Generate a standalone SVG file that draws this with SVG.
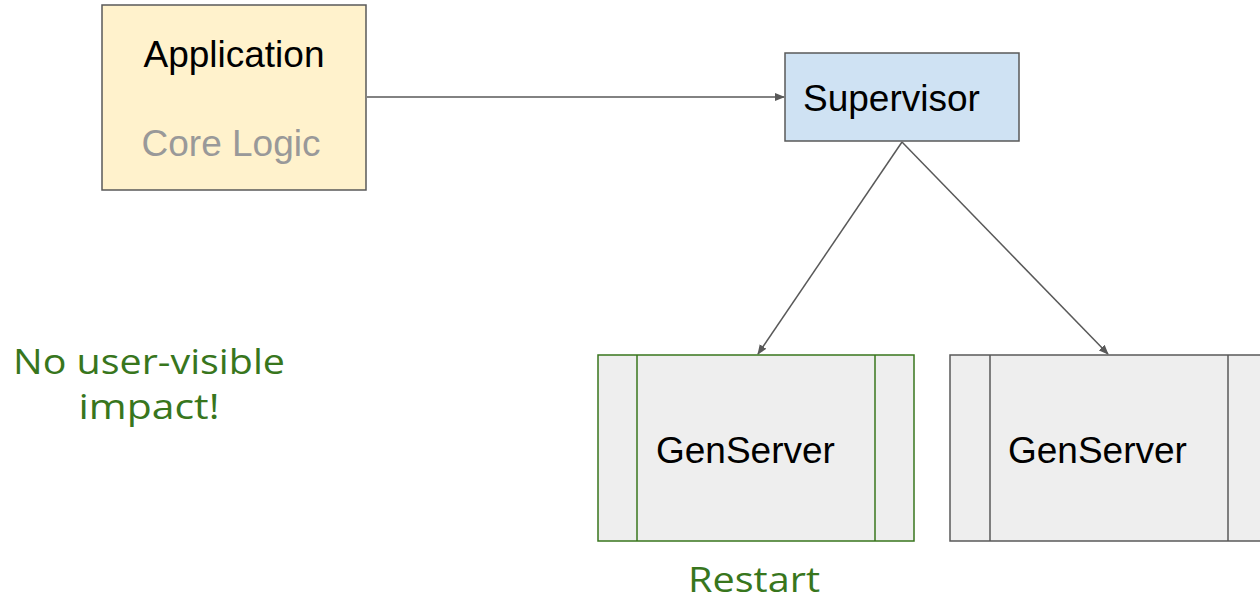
<svg xmlns="http://www.w3.org/2000/svg" width="1260" height="600" viewBox="0 0 1260 600">
  <style>
    .box { stroke: #595959; stroke-width: 1.5; }
    .label { font-family: "Liberation Sans", Arial, sans-serif; font-size: 37px; fill: #000000; }
    .note { font-family: "Open Sans", "Liberation Sans", sans-serif; font-size: 35px; fill: #38761d; }
    .conn { stroke: #595959; stroke-width: 1.5; fill: none; marker-end: url(#arrow); }
  </style>
  <defs>
    <marker id="arrow" viewBox="0 0 10 10" refX="9" refY="5" markerWidth="10" markerHeight="10" markerUnits="userSpaceOnUse" orient="auto">
      <path d="M0,1 L10,5 L0,9 z" fill="#595959"/>
    </marker>
  </defs>
  <rect width="1260" height="600" fill="#ffffff"/>

  <g id="connectors">
    <line class="conn" x1="367" y1="97" x2="784" y2="97"/>
    <line class="conn" x1="902" y1="142" x2="758" y2="354"/>
    <line class="conn" x1="902" y1="142" x2="1108" y2="354"/>
  </g>

  <g id="application">
    <rect class="box" x="102" y="5" width="264" height="185" fill="#fff2cc"/>
    <text class="label" x="234" y="67" text-anchor="middle">Application</text>
    <text class="label" x="231" y="156" text-anchor="middle" style="fill:#999999">Core Logic</text>
  </g>

  <g id="supervisor">
    <rect class="box" x="785" y="53" width="234" height="88" fill="#cfe2f3"/>
    <text class="label" x="803" y="111">Supervisor</text>
  </g>

  <g id="genserver-restarted">
    <rect x="598" y="355" width="316" height="186" fill="#eeeeee" stroke="#38761d" stroke-width="1.5"/>
    <line x1="637" y1="355" x2="637" y2="541" stroke="#38761d" stroke-width="1.5"/>
    <line x1="875" y1="355" x2="875" y2="541" stroke="#38761d" stroke-width="1.5"/>
    <text class="label" x="656" y="463">GenServer</text>
  </g>

  <g id="genserver">
    <rect class="box" x="950" y="355" width="316" height="186" fill="#eeeeee"/>
    <line class="box" x1="990" y1="355" x2="990" y2="541"/>
    <line class="box" x1="1228" y1="355" x2="1228" y2="541"/>
    <text class="label" x="1008" y="463">GenServer</text>
  </g>

  <g id="notes">
    <text class="note" x="149" y="374" text-anchor="middle" textLength="272" lengthAdjust="spacingAndGlyphs">No user-visible</text>
    <text class="note" x="149" y="419" text-anchor="middle" textLength="141" lengthAdjust="spacingAndGlyphs">impact!</text>
    <text class="note" x="754" y="592" text-anchor="middle" textLength="132" lengthAdjust="spacingAndGlyphs">Restart</text>
  </g>
</svg>
